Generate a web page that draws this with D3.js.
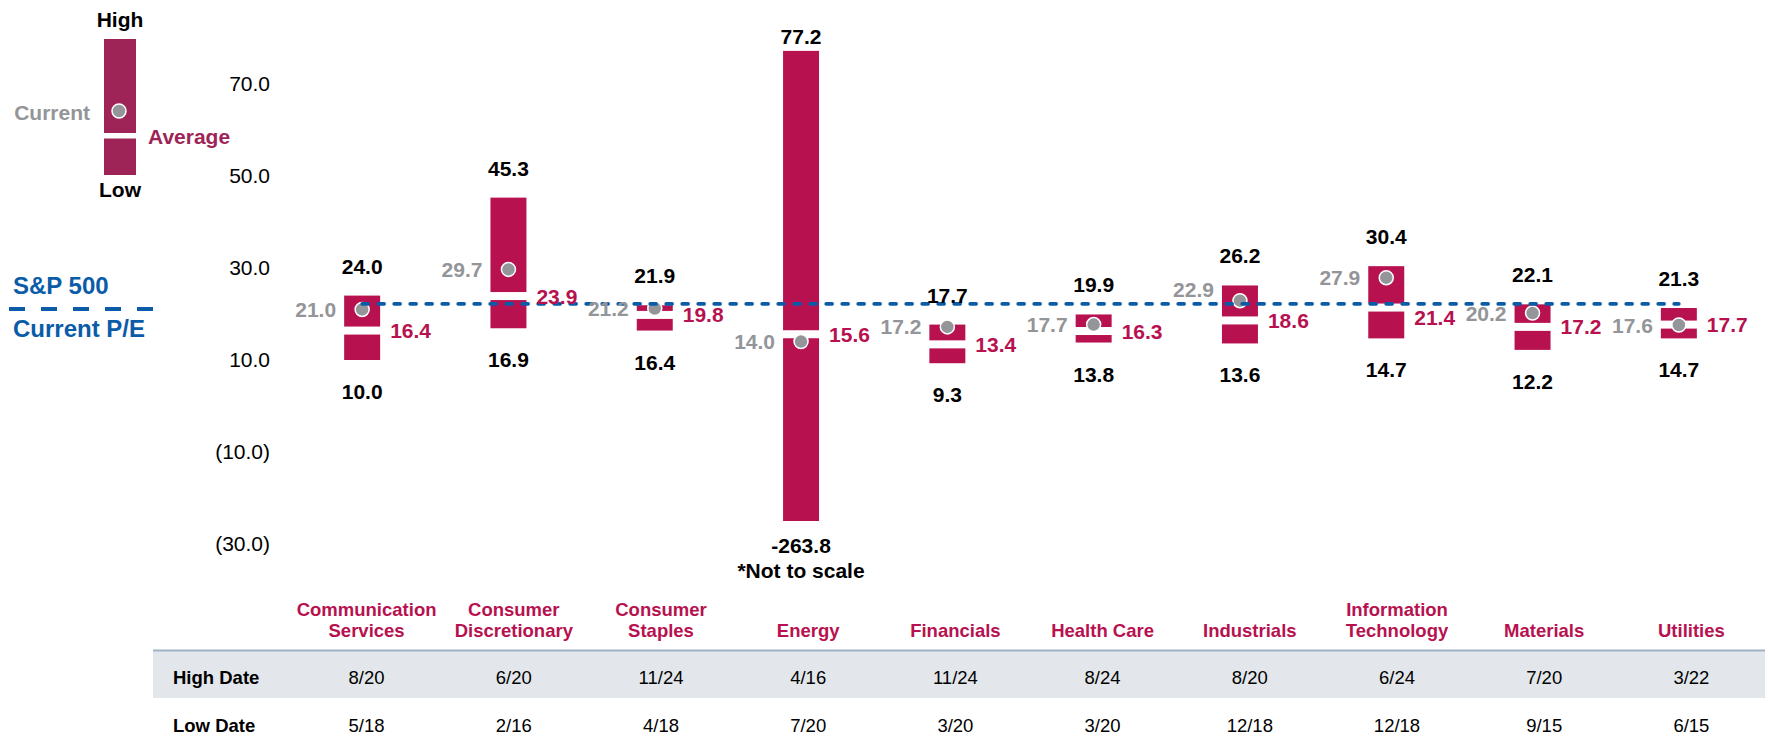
<!DOCTYPE html>
<html>
<head>
<meta charset="utf-8">
<script src="https://cdn.jsdelivr.net/npm/d3@7"></script>
<style>
  html, body { margin: 0; padding: 0; background: #ffffff; }
  svg { display: block; font-family: "Liberation Sans", Arial, Helvetica, sans-serif; }
</style>
</head>
<body>
<svg id="chart" width="1768" height="746"></svg>
<script>
// Sector forward P/E ranges: high, low, long-run average and current
const categories = [
  "Communication\nServices", "Consumer\nDiscretionary", "Consumer\nStaples", "Energy",
  "Financials", "Health Care", "Industrials", "Information\nTechnology", "Materials", "Utilities"
];
const highPE    = [24.0, 45.3, 21.9, 77.2, 17.7, 19.9, 26.2, 30.4, 22.1, 21.3];
const lowPE     = [10.0, 16.9, 16.4, -263.8, 9.3, 13.8, 13.6, 14.7, 12.2, 14.7];
const averagePE = [16.4, 23.9, 19.8, 15.6, 13.4, 16.3, 18.6, 21.4, 17.2, 17.7];
const currentPE = [21.0, 29.7, 21.2, 14.0, 17.2, 17.7, 22.9, 27.9, 20.2, 17.6];
const highDates = ["8/20", "6/20", "11/24", "4/16", "11/24", "8/24", "8/20", "6/24", "7/20", "3/22"];
const lowDates  = ["5/18", "2/16", "4/18", "7/20", "3/20", "3/20", "12/18", "12/18", "9/15", "6/15"];
const spxCurrentPE = 22.2;
const yTicks = [70, 50, 30, 10, -10, -30];
const axisFloor = -25;   // values below this are cut off ("not to scale")

const rows = categories.map((c, i) => ({
  cat: c, high: highPE[i], low: lowPE[i], avg: averagePE[i], cur: currentPE[i],
  hiDate: highDates[i], loDate: lowDates[i]
}));

const C = {
  bar: "#B7114F", legendBar: "#9E2457", gray: "#939598", blue: "#0B5CA8",
  avgText: "#B7114F", catText: "#B7114F", tableBg: "#E3E7EB", tableRule: "#9FB3C6"
};
const FONT_VAL = 21, FONT_TBL = 18.5;

const svg = d3.select("#chart");

const y = d3.scaleLinear().domain([-30, 70]).range([544, 84]);
const x = d3.scaleBand().domain(categories).range([289, 1752])
  .paddingInner(0.754).paddingOuter(0.377);
const xt = d3.scaleBand().domain(categories).range([293, 1765]);
const fmt1 = d3.format(".1f");
const fmt = v => fmt1(v).replace("\u2212", "-");   // plain hyphen for negatives
const cx = d => x(d.cat) + x.bandwidth() / 2;
const lineY = y(spxCurrentPE);

// keep labels off the S&P 500 reference line
function avoidLine(py) {
  const d = py - lineY;
  if (Math.abs(d) < 4) return lineY + (d < 0 ? -14 : 14);
  return py;
}

// ---- y axis (labels only)
const yAxis = d3.axisLeft(y).tickValues(yTicks).tickSize(0).tickPadding(0)
  .tickFormat(v => v < 0 ? `(${fmt(-v)})` : fmt(v));
const ga = svg.append("g").attr("transform", "translate(270,0)").call(yAxis);
ga.select(".domain").remove();
ga.selectAll("text").attr("font-size", FONT_VAL).attr("fill", "#000")
  .attr("font-family", "Liberation Sans, Arial, sans-serif");

// ---- range bars
const g = svg.append("g");
g.selectAll("rect.range").data(rows).join("rect")
  .attr("class", "range")
  .attr("x", d => x(d.cat)).attr("width", x.bandwidth())
  .attr("y", d => y(d.high))
  .attr("height", d => y(Math.max(d.low, axisFloor)) - y(d.high))
  .attr("fill", C.bar);

// average marker (white gap)
g.selectAll("rect.avg").data(rows).join("rect")
  .attr("class", "avg")
  .attr("x", d => x(d.cat) - 1).attr("width", x.bandwidth() + 2)
  .attr("y", d => y(d.avg) - 4).attr("height", 8)
  .attr("fill", "#ffffff");

// current marker
g.selectAll("circle.cur").data(rows).join("circle")
  .attr("class", "cur")
  .attr("cx", cx).attr("cy", d => y(d.cur)).attr("r", 7)
  .attr("fill", C.gray).attr("stroke", "#ffffff").attr("stroke-width", 1.5);

// S&P 500 current P/E reference line
g.append("line")
  .attr("x1", cx(rows[0])).attr("x2", cx(rows[rows.length - 1]))
  .attr("y1", lineY).attr("y2", lineY)
  .attr("stroke", C.blue).attr("stroke-width", 3.6)
  .attr("stroke-dasharray", "6 10").attr("stroke-linecap", "round");

// ---- value labels
const lab = svg.append("g").attr("font-weight", "bold").attr("font-size", FONT_VAL);

lab.selectAll("text.hi").data(rows).join("text")
  .attr("class", "hi").attr("text-anchor", "middle").attr("fill", "#000")
  .attr("x", cx).attr("y", d => Math.max(y(d.high) - 22, 44))
  .text(d => fmt(d.high));

lab.selectAll("text.lo").data(rows).join("text")
  .attr("class", "lo").attr("text-anchor", "middle").attr("fill", "#000")
  .attr("x", cx)
  .attr("y", d => d.low < axisFloor ? y(axisFloor) + 32 : y(d.low) + 39)
  .text(d => fmt(d.low));

lab.selectAll("text.note").data(rows.filter(d => d.low < axisFloor)).join("text")
  .attr("class", "note").attr("text-anchor", "middle").attr("fill", "#000")
  .attr("x", cx).attr("y", y(axisFloor) + 57)
  .text("*Not to scale");

lab.selectAll("text.cur").data(rows).join("text")
  .attr("class", "cur").attr("text-anchor", "end").attr("fill", C.gray)
  .attr("dominant-baseline", "central")
  .attr("x", d => x(d.cat) - 8).attr("y", d => avoidLine(y(d.cur)))
  .text(d => fmt(d.cur));

lab.selectAll("text.avg").data(rows).join("text")
  .attr("class", "avg").attr("text-anchor", "start").attr("fill", C.avgText)
  .attr("dominant-baseline", "central")
  .attr("x", d => x(d.cat) + x.bandwidth() + 10).attr("y", d => avoidLine(y(d.avg)))
  .text(d => fmt(d.avg));

// ---- category names
const cats = svg.append("g").attr("font-weight", "bold").attr("font-size", FONT_TBL)
  .attr("fill", C.catText).attr("text-anchor", "middle");
rows.forEach(d => {
  const lines = d.cat.split("\n");
  const t = cats.append("text").attr("x", xt(d.cat) + xt.bandwidth() / 2);
  lines.forEach((ln, i) => {
    t.append("tspan").attr("x", xt(d.cat) + xt.bandwidth() / 2)
      .attr("y", 637 - (lines.length - 1 - i) * 21.5).text(ln);
  });
});

// ---- date table
const tbl = svg.append("g");
tbl.append("rect").attr("x", 153).attr("y", 651).attr("width", 1612).attr("height", 47)
  .attr("fill", C.tableBg);
tbl.append("line").attr("x1", 153).attr("x2", 1765).attr("y1", 650.5).attr("y2", 650.5)
  .attr("stroke", C.tableRule).attr("stroke-width", 2);
const tableRows = [
  { label: "High Date", key: "hiDate", cy: 677 },
  { label: "Low Date",  key: "loDate", cy: 725 }
];
tableRows.forEach(r => {
  tbl.append("text").attr("x", 173).attr("y", r.cy).attr("dominant-baseline", "central")
    .attr("font-weight", "bold").attr("font-size", FONT_TBL).attr("fill", "#000").text(r.label);
  tbl.selectAll(null).data(rows).join("text")
    .attr("x", d => xt(d.cat) + xt.bandwidth() / 2).attr("y", r.cy)
    .attr("text-anchor", "middle").attr("dominant-baseline", "central")
    .attr("font-size", FONT_TBL).attr("fill", "#000")
    .text(d => d[r.key]);
});

// ---- key: high / low / current / average
const key = svg.append("g").attr("font-weight", "bold").attr("font-size", FONT_VAL);
key.append("rect").attr("x", 104).attr("y", 39).attr("width", 32).attr("height", 136)
  .attr("fill", C.legendBar);
key.append("rect").attr("x", 104).attr("y", 133).attr("width", 32).attr("height", 5.5)
  .attr("fill", "#ffffff");
key.append("circle").attr("cx", 119).attr("cy", 111).attr("r", 7)
  .attr("fill", C.gray).attr("stroke", "#ffffff").attr("stroke-width", 1.5);
key.append("text").attr("x", 120).attr("y", 27).attr("text-anchor", "middle").attr("fill", "#000").text("High");
key.append("text").attr("x", 120).attr("y", 197).attr("text-anchor", "middle").attr("fill", "#000").text("Low");
key.append("text").attr("x", 90).attr("y", 112).attr("text-anchor", "end")
  .attr("dominant-baseline", "central").attr("fill", C.gray).text("Current");
key.append("text").attr("x", 148).attr("y", 136)
  .attr("dominant-baseline", "central").attr("fill", C.legendBar).text("Average");

// ---- key: S&P 500 current P/E
const spx = svg.append("g").attr("font-weight", "bold").attr("font-size", 24).attr("fill", C.blue);
spx.append("text").attr("x", 13).attr("y", 294).text("S&P 500");
spx.append("line").attr("x1", 9).attr("x2", 156).attr("y1", 309).attr("y2", 309)
  .attr("stroke", C.blue).attr("stroke-width", 4).attr("stroke-dasharray", "16 16");
spx.append("text").attr("x", 13).attr("y", 337).text("Current P/E");
</script>
</body>
</html>
